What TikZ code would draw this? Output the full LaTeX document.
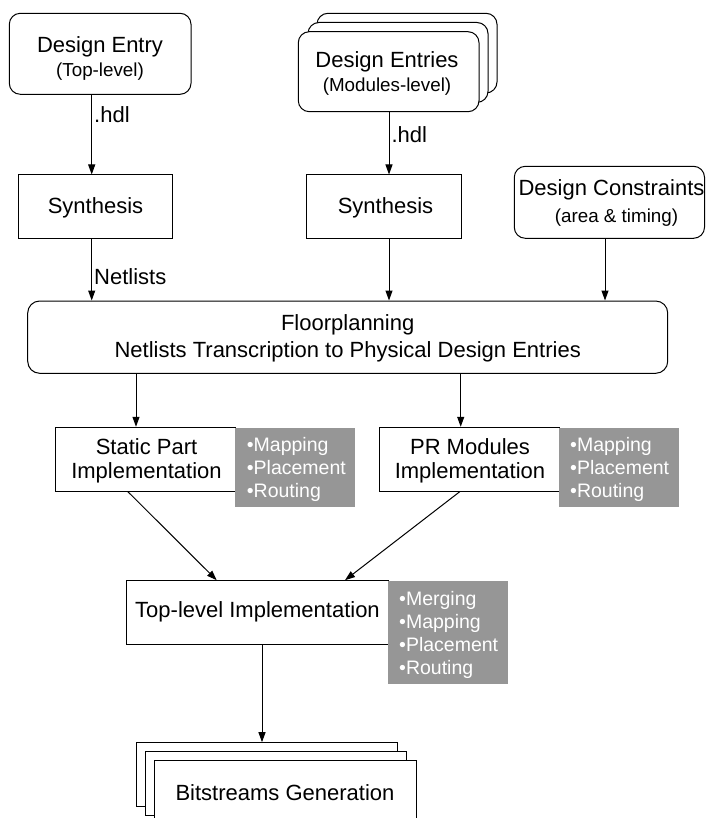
\documentclass[tikz,border=0pt]{standalone}
\usepackage{fontspec}
\setmainfont{Liberation Sans}
\usetikzlibrary{arrows.meta,fit}
\definecolor{boxgray}{RGB}{150,150,150}
\begin{document}
\begin{tikzpicture}[x=1pt,y=-1pt,
  box/.style={draw=black,line width=1pt,fill=white,inner sep=0pt},
  rbox/.style={box,rounded corners=11pt},
  graybox/.style={fill=boxgray,draw=none,inner sep=0pt},
  big/.style={font=\fontsize{22}{26}\selectfont,inner sep=0pt},
  small/.style={font=\fontsize{18.8}{22}\selectfont,inner sep=0pt},
  item/.style={font=\fontsize{19.5}{23}\selectfont,text=white,inner sep=0pt,anchor=base west},
  arr/.style={-{Triangle[length=10pt,width=7pt]},line width=1pt}]
\useasboundingbox (0,0) rectangle (705,818);

% Design Entry (top-level)
\node[rbox,fit={(9.3,13.3) (191,94.3)}] (de) {};
\node[big] (deT) at (100,47) {Design Entry};
\node[small] (deS) at (100,72) {(Top-level)};

% Design Entries (modules) stacked
\node[rbox,fit={(317,13.3) (497,93)}] (deb) {};
\node[rbox,fit={(308,22.5) (488,102.4)}] (dem) {};
\node[rbox,fit={(298.3,31.7) (479,111.7)}] (des) {};
\node[big] (desT) at (387,62) {Design Entries};
\node[small] (desS) at (387,87) {(Modules-level)};

% Synthesis boxes
\node[box,fit={(18.3,175) (172.3,238.3)}] (syn1) {};
\node[big] (syn1T) at (95.5,208) {Synthesis};
\node[box,fit={(306.7,175) (461.7,238.3)}] (syn2) {};
\node[big] (syn2T) at (385.5,208) {Synthesis};

% Design Constraints
\node[rbox,fit={(514.3,166.3) (704.5,238.3)}] (dc) {};
\node[big] (dcT) at (611.5,190) {Design Constraints};
\node[small] (dcS) at (616.5,218) {(area \& timing)};

% Floorplanning
\node[box,rounded corners=12pt,fit={(27.7,301) (667.7,373.3)}] (fp) {};
\node[big] (fpT) at (347.7,325) {Floorplanning};
\node[big] (fpS) at (347.7,351.7) {Netlists Transcription to Physical Design Entries};

% Static part / PR modules
\node[box,fit={(55,427.3) (235,491)}] (st) {};
\node[big] (stT) at (146.5,446.7) {Static Part};
\node[big] (stS) at (146.5,473.3) {Implementation};
\node[graybox,fit={(235,428.3) (355,507.3)}] (g1) {};
\node[item] (g1a) at (246.7,451) {•Mapping};
\node[item] (g1b) at (246.7,474) {•Placement};
\node[item] (g1c) at (246.7,497) {•Routing};

\node[box,fit={(379.3,427.3) (559.3,491)}] (pr) {};
\node[big] (prT) at (470,446.7) {PR Modules};
\node[big] (prS) at (470,473.3) {Implementation};
\node[graybox,fit={(559.3,428.3) (679,507.3)}] (g2) {};
\node[item] (g2a) at (570,451) {•Mapping};
\node[item] (g2b) at (570,474) {•Placement};
\node[item] (g2c) at (570,497) {•Routing};

% Top-level implementation
\node[box,fit={(126.7,580.7) (388,644)}] (tl) {};
\node[big] (tlT) at (257.5,612) {Top-level Implementation};
\node[graybox,fit={(388,581) (508,684)}] (g3) {};
\node[item] (g3a) at (399,605) {•Merging};
\node[item] (g3b) at (399,628) {•Mapping};
\node[item] (g3c) at (399,651) {•Placement};
\node[item] (g3d) at (399,674) {•Routing};

% Bitstreams stacked
\node[box,fit={(136,742.7) (397,806.7)}] (bsb) {};
\node[box,fit={(145,751.7) (406.3,815.7)}] (bsm) {};
\node[box,fit={(154,760.7) (416,824.7)}] (bsf) {};
\node[big] (bsT) at (285,793) {Bitstreams Generation};

% connectors
\draw[arr] (91.7,0 |- de.south) -- node[big,anchor=west,xshift=2pt,pos=0.25] (l1) {.hdl} (91.7,0 |- syn1.north);
\draw[arr] (91.7,0 |- syn1.south) -- node[big,anchor=west,xshift=2pt,pos=0.62] (l2) {Netlists} (91.7,0 |- fp.north);
\draw[arr] (389,0 |- des.south) -- node[big,anchor=west,xshift=2pt,pos=0.36] (l3) {.hdl} (389,0 |- syn2.north);
\draw[arr] (389,0 |- syn2.south) -- (389,0 |- fp.north);
\draw[arr] (605,0 |- dc.south) -- (605,0 |- fp.north);
\draw[arr] (136,0 |- fp.south) -- (136,0 |- st.north);
\draw[arr] (460.7,0 |- fp.south) -- (460.7,0 |- pr.north);
\draw[arr] (127.7,0 |- st.south) -- (216.7,0 |- tl.north);
\draw[arr] (460,0 |- pr.south) -- (345,0 |- tl.north);
\draw[arr] (262,0 |- tl.south) -- (262,0 |- bsb.north);
\end{tikzpicture}
\end{document}
